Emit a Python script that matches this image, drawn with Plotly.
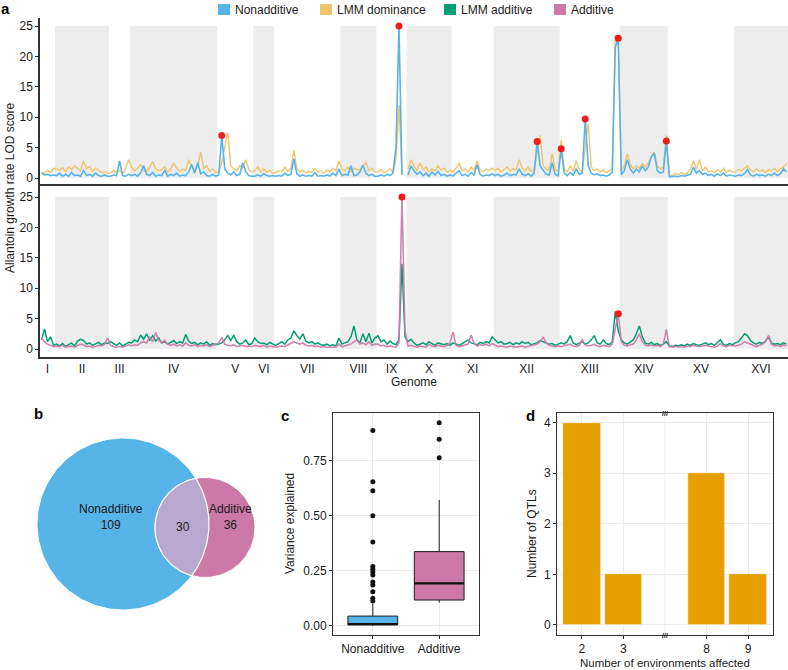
import math
import numpy as np
import plotly.graph_objects as go

W, H = 788, 670
FONT = "Liberation Sans, Arial, sans-serif"
TXT = "#1a1a1a"

# ---------------- data ----------------
chrom_names = ["I", "II", "III", "IV", "V", "VI", "VII", "VIII",
               "IX", "X", "XI", "XII", "XIII", "XIV", "XV", "XVI"]
chrom_markers = [5, 18, 7, 29, 12, 7, 22, 12, 10, 15, 14, 22, 20, 16, 22, 18]

nonadditive = [
    0.8, 0.5, 0.6, 0.4, 0.5,
    0.4, 0.8, 0.3, 0.6, 0.3, 0.9, 0.4, 0.5, 0.3, 1.2, 0.4, 0.6, 0.3, 0.8, 0.4, 0.3, 0.5, 0.3,
    0.3, 0.5, 0.4, 2.8, 0.4, 0.3, 0.6,
    0.4, 0.6, 0.3, 0.8, 2.0, 0.6, 0.4, 0.9, 0.3, 0.5, 0.4, 1.2, 0.3, 0.6, 0.4, 0.8, 0.3, 0.5, 0.4, 1.0,
    2.2, 0.8, 2.5, 0.7, 1.0, 0.4, 0.3, 0.6, 0.3,
    0.5, 7.0, 1.5, 0.8, 0.5, 1.0, 0.4, 0.6, 2.5, 1.0, 0.4, 0.3,
    0.3, 0.5, 0.3, 0.7, 0.4, 0.3, 0.4,
    0.3, 0.4, 0.3, 0.8, 0.4, 0.6, 3.2, 0.7, 0.3, 0.5, 0.3, 0.4, 0.3, 0.9, 0.3, 0.4, 0.3, 0.5, 0.3, 0.8, 0.4, 1.5,
    0.4, 0.6, 0.5, 2.0, 0.4, 0.5, 1.0, 2.1, 0.8, 0.4, 0.6, 0.3,
    0.3, 0.5, 0.3, 0.6, 0.4, 0.8, 5.0, 25.0, 0.5, None,
    0.5, 2.0, 1.2, 0.6, 1.0, 0.4, 0.8, 0.3, 1.0, 0.5, 1.1, 0.4, 0.6, 0.3, 0.5,
    0.3, 0.8, 1.2, 0.4, 0.6, 0.3, 0.9, 0.5, 2.2, 0.6, 0.3, 0.5, 0.4, 0.7,
    0.4, 0.6, 0.3, 0.5, 0.8, 0.4, 0.6, 0.5, 1.5, 0.6, 0.4, 0.7, 0.3, 0.8, 6.0, 2.0, 1.2, 0.6, 0.5, 2.5, 0.6, 0.4,
    4.8, 0.8, 0.4, 0.9, 0.5, 1.5, 0.6, 0.8, 9.7, 2.0, 0.8, 0.5, 0.7, 0.4, 0.5, 0.3, 0.5, 1.0, 21.5, 23.0,
    0.5, 1.2, 3.0, 1.5, 0.8, 1.5, 1.0, 2.0, 1.2, 1.8, 3.5, 4.0, 1.2, 0.8, 1.0, 6.1,
    0.2, 0.3, 0.3, 0.2, 0.4, 0.3, 0.4, 0.6, 1.8, 0.8, 1.2, 0.6, 0.8, 0.4, 0.6, 0.3, 0.7, 0.4, 0.8, 0.3, 0.5, 0.4,
    0.3, 0.5, 0.4, 0.7, 1.4, 0.5, 0.3, 0.6, 0.4, 0.5, 0.3, 0.6, 0.4, 0.8, 0.4, 0.7, 1.5, 1.0,
]

lmm_dominance = [
    1.0, 0.8, 1.3, 0.9, 1.6,
    1.5, 1.2, 1.7, 1.0, 1.8, 1.4, 2.0, 1.6, 1.2, 2.8, 1.5, 1.9, 1.1, 1.6, 1.3, 0.9, 1.0, 0.8,
    0.8, 1.3, 0.9, 1.2, 0.7, 1.5, 3.0,
    1.8, 1.2, 1.6, 2.2, 1.4, 1.0, 1.8, 2.7, 1.5, 1.2, 1.4, 1.8, 1.0, 1.5, 2.5, 1.6, 1.1, 1.5, 1.2, 3.0,
    1.8, 1.4, 2.0, 4.3, 1.6, 2.0, 1.1, 1.5, 0.9,
    1.0, 2.5, 5.0, 7.5, 2.0, 1.5, 1.2, 2.0, 1.6, 3.0, 1.4, 1.0,
    1.2, 1.8, 1.0, 1.5, 0.9, 1.3, 0.8,
    0.9, 1.2, 1.0, 1.8, 1.1, 1.5, 4.6, 1.6, 1.0, 1.3, 0.8, 1.1, 0.9, 1.5, 1.0, 1.2, 0.8, 1.3, 1.0, 1.6, 1.2, 2.8,
    1.5, 1.2, 1.8, 1.0, 1.6, 1.4, 1.3, 2.0, 2.5, 1.2, 1.6, 1.0,
    1.0, 1.4, 0.8, 1.2, 1.5, 0.9, 3.0, 12.0, 0.6, None,
    1.5, 3.0, 2.0, 1.2, 2.5, 1.4, 1.8, 1.0, 1.5, 1.2, 2.0, 1.3, 1.6, 1.0, 1.2,
    1.0, 1.6, 2.5, 1.2, 1.5, 1.0, 1.8, 1.3, 2.8, 1.4, 1.0, 1.5, 1.2, 1.6,
    1.2, 1.6, 1.0, 1.4, 1.8, 1.1, 1.5, 1.3, 3.0, 1.6, 1.2, 1.8, 1.0, 1.5, 4.5, 7.0, 2.0, 1.5, 1.2, 4.0, 1.4, 1.0,
    6.2, 1.5, 1.0, 2.0, 1.2, 2.8, 1.4, 1.0, 5.0, 9.0, 1.8, 1.2, 1.5, 1.0, 1.3, 0.9, 1.2, 1.5, 23.5, 22.0,
    1.2, 2.0, 4.0, 2.2, 1.5, 2.0, 1.6, 2.4, 1.8, 2.5, 3.5, 4.3, 2.0, 1.5, 1.8, 7.0,
    0.5, 0.4, 0.8, 0.5, 0.9, 0.6, 0.8, 1.5, 2.8, 1.5, 3.0, 1.2, 1.8, 1.0, 1.2, 0.8, 1.4, 1.0, 1.6, 0.9, 1.3, 1.0,
    1.0, 1.4, 1.2, 1.6, 2.0, 1.3, 1.0, 1.5, 1.1, 1.3, 0.9, 1.4, 1.2, 1.6, 1.0, 1.5, 1.8, 2.5,
]

lmm_additive = [
    1.5, 3.3, 1.2, 2.0, 0.6,
    0.8, 0.5, 0.9, 0.4, 0.7, 1.0, 0.5, 1.3, 1.6, 1.4, 0.8, 1.0, 0.6, 0.9, 1.1, 0.7, 1.0, 0.9,
    1.2, 0.9, 0.6, 1.0, 0.5, 0.8, 1.1,
    1.0, 1.5, 1.2, 2.3, 1.6, 2.5, 1.4, 2.2, 1.3, 1.8, 1.0, 1.2, 0.8, 1.1, 1.4, 0.9, 1.2, 1.0, 2.4, 1.3,
    0.9, 1.1, 0.7, 1.0, 0.8, 1.2, 0.6, 0.9, 0.7,
    0.8, 1.0, 1.5, 2.2, 1.4, 2.3, 1.2, 0.8, 1.0, 1.5, 0.7, 0.9,
    1.8, 1.2, 0.9, 1.0, 0.7, 1.1, 0.8,
    0.6, 0.9, 1.2, 0.8, 1.5, 1.8, 3.0, 2.2, 1.6, 2.5, 1.3, 1.0, 1.2, 0.8, 1.0, 0.7, 0.6, 0.8, 0.5, 0.7, 0.5, 1.8,
    0.8, 1.0, 1.2, 2.0, 3.8, 1.5, 1.0, 2.5, 1.2, 2.6, 1.0, 1.8,
    2.2, 1.2, 1.5, 0.8, 1.3, 0.9, 0.7, 1.5, 14.0, 2.0,
    1.2, 1.6, 1.0, 0.6, 0.8, 1.0, 0.7, 1.2, 0.9, 0.6, 1.0, 0.8, 0.7, 0.9, 0.6,
    1.0, 0.8, 0.6, 0.9, 1.2, 1.5, 1.0, 0.8, 0.7, 1.1, 0.9, 1.2, 1.0, 2.0,
    1.5, 1.0, 1.2, 0.8, 0.9, 1.1, 0.7, 1.0, 0.8, 1.2, 0.9, 1.1, 0.7, 0.9, 1.0, 1.4, 1.2, 1.0, 0.8, 0.9, 0.6, 0.8,
    1.0, 0.8, 1.2, 2.2, 1.0, 0.7, 0.9, 1.2, 0.8, 1.0, 1.5, 2.2, 1.0, 0.8, 1.5, 0.9, 0.7, 1.2, 6.2, 3.0,
    1.5, 1.0, 0.8, 1.2, 1.5, 2.5, 3.8, 2.0, 1.0, 0.8, 1.1, 0.7, 0.9, 0.6, 0.8, 1.2,
    0.5, 0.4, 0.6, 0.5, 0.7, 0.5, 0.8, 0.6, 0.9, 0.7, 0.6, 0.8, 1.0, 0.7, 0.9, 0.6, 1.0, 1.5, 0.8, 0.6, 0.9, 0.7,
    1.0, 1.2, 1.8, 2.5, 2.2, 1.4, 1.0, 0.8, 1.1, 0.9, 1.3, 2.0, 1.0, 0.8, 0.9, 0.7, 1.0, 0.8,
]

additive = [
    1.8, 1.2, 0.8, 0.6, 0.4,
    0.5, 0.4, 0.6, 0.3, 0.4, 0.5, 0.3, 0.6, 0.8, 0.7, 0.4, 0.5, 0.3, 0.4, 0.6, 0.5, 0.8, 1.8,
    0.6, 0.4, 0.3, 0.4, 0.3, 0.5, 0.7,
    0.5, 0.7, 0.6, 1.0, 1.2, 1.0, 2.0, 1.2, 2.7, 1.5, 1.0, 1.4, 0.8, 0.6, 0.8, 0.5, 0.7, 0.5, 1.0, 0.6,
    0.5, 0.7, 0.4, 0.6, 0.5, 0.7, 0.4, 0.6, 0.8,
    1.0, 1.9, 0.8, 0.6, 0.5, 0.7, 0.4, 0.5, 0.6, 0.4, 0.5, 0.4,
    0.6, 0.5, 0.4, 0.6, 0.3, 0.5, 0.4,
    0.3, 0.4, 0.5, 0.4, 0.7, 0.9, 1.2, 1.0, 0.8, 1.0, 0.6, 0.5, 0.6, 0.4, 0.5, 0.3, 0.4, 0.3, 0.3, 0.4, 0.3, 0.8,
    0.4, 0.5, 0.6, 0.8, 1.2, 1.5, 0.8, 1.0, 0.7, 1.2, 0.6, 0.8,
    0.8, 0.5, 0.6, 0.4, 0.5, 0.4, 0.3, 1.0, 25.0, 3.0,
    0.5, 0.6, 0.4, 0.3, 0.5, 0.4, 0.3, 0.8, 0.5, 0.4, 0.6, 0.5, 0.4, 0.6, 1.0,
    2.8, 0.6, 0.4, 0.5, 0.7, 0.8, 2.3, 0.9, 0.5, 0.7, 0.6, 0.8, 0.5, 0.9,
    0.6, 0.4, 0.5, 0.4, 0.3, 0.5, 0.4, 0.3, 0.4, 0.5, 0.3, 0.4, 0.5, 0.6, 0.8, 1.2, 2.0, 1.0, 0.6, 0.5, 0.4, 0.5,
    0.4, 0.5, 0.6, 0.8, 0.5, 0.4, 0.6, 1.5, 0.7, 0.5, 0.6, 0.8, 0.5, 0.4, 0.6, 0.5, 0.4, 0.8, 3.5, 5.8,
    1.2, 0.6, 0.5, 0.6, 0.8, 1.5, 2.5, 1.2, 0.6, 0.5, 0.7, 0.5, 0.6, 0.4, 0.8, 3.2,
    0.4, 0.3, 0.4, 0.3, 0.4, 0.3, 0.5, 0.4, 0.6, 0.5, 0.4, 0.5, 0.6, 0.5, 0.4, 0.3, 0.5, 0.9, 0.5, 0.4, 0.6, 0.5,
    0.5, 0.6, 0.8, 1.2, 1.0, 0.7, 0.5, 0.4, 0.6, 0.8, 1.2, 2.2, 0.8, 0.5, 0.6, 0.4, 0.7, 0.5,
]

top_peak_markers = [60, 119, 165, 173, 181, 192, 208]
bottom_peak_markers = [120, 192]

venn_sets = ["Nonadditive", "Additive"]
venn_counts = [109, 30, 36]   # only nonadditive, shared, only additive

box_groups = ["Nonadditive", "Additive"]
box_q1 = [0.0045, 0.118]
box_median = [0.009, 0.194]
box_q3 = [0.045, 0.338]
box_lower = [0.0, 0.106]
box_upper = [0.10, 0.573]
nonadd_outliers = [0.888, 0.656, 0.615, 0.501, 0.382, 0.27, 0.258, 0.245, 0.232,
                   0.200, 0.186, 0.156, 0.126, 0.114]
add_outliers = [0.924, 0.849, 0.765]

env_labels = ["2", "3", "8", "9"]
qtl_counts = [4, 1, 3, 1]

# ---------------- helpers ----------------
def fx(p):
    return p / W


def fy(p):
    return 1 - p / H


N = sum(chrom_markers)
bounds = np.concatenate([[0], np.cumsum(chrom_markers)])
xpos = np.arange(N) + 0.5
centers = (bounds[:-1] + bounds[1:]) / 2

C_BLUE = "#56B4E9"
C_YEL = "#F0C46C"
C_GREEN = "#009E73"
C_PINK = "#CC79A7"
C_LENS = "#B9A7CF"
C_BAR = "#E69F00"

fig = go.Figure()

# ---------- panel a top ----------
fig.add_trace(go.Scatter(x=xpos, y=lmm_dominance, mode="lines", line=dict(color=C_YEL, width=1.4),
                         xaxis="x", yaxis="y", hoverinfo="skip", showlegend=False))
fig.add_trace(go.Scatter(x=xpos, y=nonadditive, mode="lines", line=dict(color=C_BLUE, width=1.6),
                         xaxis="x", yaxis="y", hoverinfo="skip", showlegend=False))
fig.add_trace(go.Scatter(x=[xpos[i] for i in top_peak_markers], y=[nonadditive[i] for i in top_peak_markers],
                         mode="markers", marker=dict(color="#EE1D1D", size=7),
                         xaxis="x", yaxis="y", hoverinfo="skip", showlegend=False))
# ---------- panel a bottom ----------
fig.add_trace(go.Scatter(x=xpos, y=lmm_additive, mode="lines", line=dict(color=C_GREEN, width=1.5),
                         xaxis="x2", yaxis="y2", hoverinfo="skip", showlegend=False))
fig.add_trace(go.Scatter(x=xpos, y=additive, mode="lines", line=dict(color="rgba(204,121,167,0.92)", width=1.6),
                         xaxis="x2", yaxis="y2", hoverinfo="skip", showlegend=False))
fig.add_trace(go.Scatter(x=[xpos[i] for i in bottom_peak_markers], y=[additive[i] for i in bottom_peak_markers],
                         mode="markers", marker=dict(color="#EE1D1D", size=7),
                         xaxis="x2", yaxis="y2", hoverinfo="skip", showlegend=False))

shapes = []
annotations = []

for k in range(1, len(chrom_names), 2):
    for xr, yr in (("x", "y"), ("x2", "y2")):
        shapes.append(dict(type="rect", xref=xr, yref=yr, x0=bounds[k], x1=bounds[k + 1], y0=0, y1=25,
                           fillcolor="#EDEDED", line=dict(width=0), layer="below"))

# ---------- panel b: venn ----------
cA, rA = (123.0, 524.0), 86.0
cB, rB = (205.0, 527.5), 50.0
t = np.linspace(0, 2 * np.pi, 181)


def circ(c, r):
    return c[0] + r * np.cos(t), c[1] + r * np.sin(t)


dx, dy = cB[0] - cA[0], cB[1] - cA[1]
d = math.hypot(dx, dy)
phi = math.atan2(dy, dx)
a = (rA ** 2 - rB ** 2 + d ** 2) / (2 * d)
h = math.sqrt(rA ** 2 - a ** 2)
thA = math.atan2(h, a)
thB = math.atan2(h, d - a)
angA = np.linspace(phi - thA, phi + thA, 60)
angB = np.linspace(phi + math.pi - thB, phi + math.pi + thB, 60)
lens_x = np.concatenate([cA[0] + rA * np.cos(angA), cB[0] + rB * np.cos(angB)])
lens_y = np.concatenate([cA[1] + rA * np.sin(angA), cB[1] + rB * np.sin(angB)])

for (cc, rr, col) in ((cA, rA, C_BLUE), (cB, rB, C_PINK)):
    xs, ys = circ(cc, rr)
    fig.add_trace(go.Scatter(x=xs, y=ys, mode="lines", fill="toself", fillcolor=col,
                             line=dict(color="white", width=1), xaxis="x3", yaxis="y3",
                             hoverinfo="skip", showlegend=False))
fig.add_trace(go.Scatter(x=lens_x, y=lens_y, mode="lines", fill="toself", fillcolor=C_LENS,
                         line=dict(color="white", width=1.2), xaxis="x3", yaxis="y3",
                         hoverinfo="skip", showlegend=False))

vfont = dict(family=FONT, size=12, color=TXT)
annotations += [
    dict(x=111, y=517, xref="x3", yref="y3", text=f"{venn_sets[0]}<br>{venn_counts[0]}", showarrow=False,
         font=vfont, xanchor="center", yanchor="middle"),
    dict(x=183, y=527, xref="x3", yref="y3", text=str(venn_counts[1]), showarrow=False, font=vfont,
         xanchor="center", yanchor="middle"),
    dict(x=230, y=517, xref="x3", yref="y3", text=f"{venn_sets[1]}<br>{venn_counts[2]}", showarrow=False,
         font=vfont, xanchor="center", yanchor="middle"),
]

# ---------- panel c: boxplot ----------
box_cols = [C_BLUE, C_PINK]
for i, g in enumerate(box_groups):
    fig.add_trace(go.Box(x=[g], q1=[box_q1[i]], median=[box_median[i]], q3=[box_q3[i]],
                         lowerfence=[box_lower[i]], upperfence=[box_upper[i]], orientation="v",
                         width=0.75, whiskerwidth=0, fillcolor=box_cols[i],
                         line=dict(color="#1a1a1a", width=1), boxpoints=False,
                         xaxis="x4", yaxis="y4", hoverinfo="skip", showlegend=False))
    shapes.append(dict(type="line", xref="x4", yref="y4", x0=i - 0.375, x1=i + 0.375,
                       y0=box_median[i], y1=box_median[i], line=dict(color="#111", width=2.2)))
fig.add_trace(go.Scatter(x=[box_groups[0]] * len(nonadd_outliers) + [box_groups[1]] * len(add_outliers),
                         y=nonadd_outliers + add_outliers, mode="markers",
                         marker=dict(color="#111", size=5), xaxis="x4", yaxis="y4",
                         hoverinfo="skip", showlegend=False))

# ---------- panel d: bars ----------
slots = [i + 1 + (1 if i >= 2 else 0) for i in range(len(env_labels))]
fig.add_trace(go.Bar(x=slots, y=qtl_counts, width=0.9, marker=dict(color=C_BAR, line=dict(color="white", width=0.6)),
                     xaxis="x5", yaxis="y5", hoverinfo="skip", showlegend=False))
shapes.append(dict(type="line", xref="x5", yref="y5 domain", x0=3, x1=3, y0=0, y1=1,
                   line=dict(color="#EBEBEB", width=0.8), layer="below"))
for yy in (0, 1):
    annotations.append(dict(x=3, y=yy, xref="x5", yref="y5 domain", text="<b>///</b>", showarrow=False,
                            xanchor="center", yanchor="middle",
                            font=dict(family=FONT, size=7, color="#111")))

# ---------- legend (top) ----------
leg = [("Nonadditive", C_BLUE, 218), ("LMM dominance", C_YEL, 320), ("LMM additive", C_GREEN, 444),
       ("Additive", C_PINK, 554)]
for name, col, px in leg:
    shapes.append(dict(type="rect", xref="paper", yref="paper", x0=fx(px), x1=fx(px + 12),
                       y0=fy(15), y1=fy(4), fillcolor=col, line=dict(width=0)))
    annotations.append(dict(x=fx(px + 15), y=fy(9.5), xref="paper", yref="paper", text=name,
                            xanchor="left", yanchor="middle", showarrow=False,
                            font=dict(family=FONT, size=12, color=TXT)))

# ---------- panel labels & titles ----------
for lab, px, py in (("a", 5, 9), ("b", 38, 413), ("c", 285, 415), ("d", 530, 415)):
    annotations.append(dict(x=fx(px), y=fy(py), xref="paper", yref="paper", text=f"<b>{lab}</b>",
                            showarrow=False, xanchor="center", yanchor="middle",
                            font=dict(family=FONT, size=15, color="#000")))

tfont = dict(family=FONT, size=12, color=TXT)
for text, px, py, ang, sz in (
        ("Allantoin growth rate LOD score", 10, 188, -90, 12),
        ("Genome", 414, 382, 0, 12),
        ("Variance explained", 290, 524, -90, 12),
        ("Number of QTLs", 532, 534, -90, 12),
        ("Number of environments affected", 665, 663, 0, 11.5)):
    annotations.append(dict(x=fx(px), y=fy(py), xref="paper", yref="paper", text=text, textangle=ang,
                            xanchor="center", yanchor="middle", showarrow=False,
                            font=dict(family=FONT, size=sz, color=TXT)))

tick_font = dict(family=FONT, size=12, color=TXT)
PXU = 6.08
base = dict(showgrid=False, zeroline=False, tickfont=tick_font)

fig.update_layout(
    width=W, height=H, margin=dict(l=0, r=0, t=0, b=0),
    paper_bgcolor="white", plot_bgcolor="white", boxmode="overlay", bargap=0,
    font=dict(family=FONT, color=TXT),
    shapes=shapes, annotations=annotations,
    xaxis=dict(base, domain=[fx(40), 1], range=[0, N], anchor="y", showline=True, linecolor="#333",
               linewidth=2, showticklabels=False, ticks=""),
    yaxis=dict(base, domain=[fy(184), fy(18)], range=[(178 - 184) / PXU, (178 - 18) / PXU], anchor="x",
               tickvals=[0, 5, 10, 15, 20, 25], ticks="outside", ticklen=3, tickcolor="#333",
               showline=True, linecolor="#333", linewidth=1.5),
    xaxis2=dict(base, domain=[fx(40), 1], range=[0, N], anchor="y2", tickvals=list(centers),
                ticktext=chrom_names, ticks="", showline=True, linecolor="#333", linewidth=2),
    yaxis2=dict(base, domain=[fy(357), fy(186)], range=[(349 - 357) / PXU, (349 - 186) / PXU], anchor="x2",
                tickvals=[0, 5, 10, 15, 20, 25], ticks="outside", ticklen=3, tickcolor="#333",
                showline=True, linecolor="#333", linewidth=1.5),
    xaxis3=dict(domain=[fx(20), fx(280)], range=[20, 280], visible=False, anchor="y3"),
    yaxis3=dict(domain=[fy(640), fy(420)], range=[640, 420], visible=False, anchor="x3"),
    xaxis4=dict(base, domain=[fx(333), fx(479)], type="category", categoryorder="array",
                categoryarray=box_groups, range=[-0.6, 1.6], anchor="y4", showgrid=True,
                gridcolor="#EBEBEB", gridwidth=0.8, ticks="outside", ticklen=3, tickcolor="#333",
                showline=True, mirror=True, linecolor="#333", linewidth=1),
    yaxis4=dict(base, domain=[fy(635), fy(413)], range=[-0.041, 0.968], anchor="x4",
                tickvals=[0, 0.25, 0.5, 0.75], ticktext=["0.00", "0.25", "0.50", "0.75"],
                showgrid=True, gridcolor="#EBEBEB", gridwidth=0.8, ticks="outside", ticklen=3,
                tickcolor="#333", showline=True, mirror=True, linecolor="#333", linewidth=1),
    xaxis5=dict(base, domain=[fx(557), fx(773)], range=[0.4, 5.6], anchor="y5",
                tickvals=slots, ticktext=env_labels, showgrid=True, gridcolor="#EBEBEB", gridwidth=0.8,
                ticks="outside", ticklen=3, tickcolor="#333", showline=True, mirror=True,
                linecolor="#333", linewidth=1),
    yaxis5=dict(base, domain=[fy(635), fy(413)], range=[-0.2, 4.19], anchor="x5",
                tickvals=[0, 1, 2, 3, 4], showgrid=True, gridcolor="#EBEBEB", gridwidth=0.8,
                ticks="outside", ticklen=3, tickcolor="#333", showline=True, mirror=True,
                linecolor="#333", linewidth=1),
)

fig.write_html("out.html", config={"displayModeBar": False},
               post_script="document.body.style.margin='0px';document.body.style.padding='0px';")
